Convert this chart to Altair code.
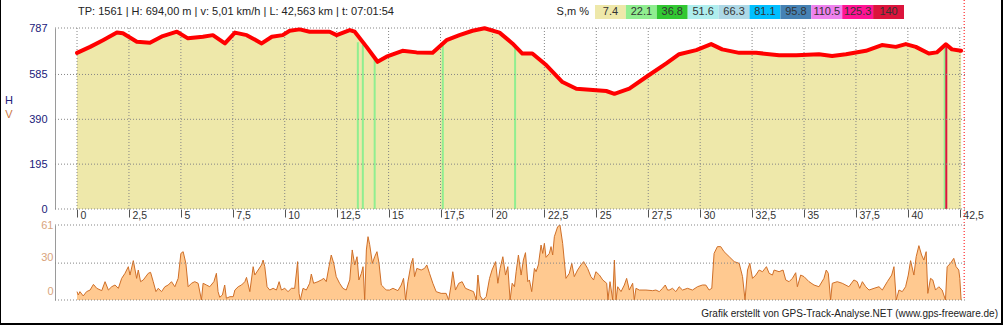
import altair as alt
import pandas as pd

# ---------------- data ----------------
elev_km = [0.00, 0.63, 1.25, 1.92, 2.21, 2.88, 3.51, 4.13, 4.81, 5.34, 6.06, 6.54, 7.12, 7.60,
           8.17, 8.89, 9.38, 9.90, 10.24, 10.72, 11.20, 12.16, 12.50, 13.13, 13.37, 13.94,
           14.47, 14.90, 15.67, 16.35, 17.12, 17.79, 18.41, 19.04, 19.62, 20.34, 20.96,
           21.44, 21.92, 22.60, 23.37, 24.04, 25.00, 25.48, 25.87, 26.59, 27.40, 28.37,
           28.99, 29.81, 30.53, 31.06, 31.88, 32.69, 33.80, 34.62, 35.72, 36.35, 37.02,
           37.98, 38.75, 39.42, 39.90, 40.38, 41.01, 41.39, 41.83, 42.12, 42.563]
elev_m = [679, 705, 734, 767, 764, 727, 723, 752, 771, 742, 749, 756, 720, 767,
          756, 720, 749, 756, 775, 781, 771, 771, 756, 778, 771, 705,
          640, 662, 688, 681, 679, 734, 756, 775, 786, 767, 720,
          676, 676, 625, 552, 523, 516, 513, 501, 523, 574, 633,
          673, 691, 717, 694, 679, 679, 669, 669, 673, 665, 673,
          688, 713, 705, 717, 705, 676, 681, 716, 694, 688]

v_km = [0.00, 0.06, 0.14, 0.30, 0.46, 0.63, 0.79, 0.95, 1.19, 1.35, 1.51, 1.67, 1.83, 1.99,
        2.15, 2.31, 2.47, 2.55, 2.71, 2.87, 2.95, 3.06, 3.19, 3.43, 3.54, 3.67, 3.80, 3.91,
        4.07, 4.23, 4.39, 4.55, 4.71, 4.87, 5.00, 5.11, 5.24, 5.35, 5.51, 5.67, 5.83, 5.99,
        6.07, 6.23, 6.39, 6.59, 6.71, 6.79, 6.87, 7.00, 7.11, 7.19, 7.36, 7.52, 7.60, 7.76,
        7.92, 8.08, 8.16, 8.32, 8.48, 8.56, 8.72, 8.88, 8.96, 9.04, 9.15, 9.28, 9.44, 9.60,
        9.73, 9.84, 10.00, 10.16, 10.32, 10.48, 10.62, 10.69, 10.75, 10.88, 11.04, 11.20,
        11.28, 11.39, 11.60, 11.76, 11.88, 12.00, 12.13, 12.24, 12.36, 12.48, 12.64, 12.80,
        12.96, 13.13, 13.25, 13.37, 13.48, 13.57, 13.69, 13.77, 13.85, 13.93, 14.01, 14.09,
        14.22, 14.33, 14.44, 14.54, 14.65, 14.81, 14.89, 15.05, 15.21, 15.45, 15.61, 15.72,
        15.82, 15.93, 16.09, 16.17, 16.25, 16.36, 16.57, 16.73, 16.84, 16.97, 17.13, 17.29,
        17.53, 17.77, 17.89, 18.01, 18.09, 18.22, 18.38, 18.54, 18.70, 18.90, 19.09, 19.22,
        19.30, 19.41, 19.54, 19.70, 19.86, 19.98, 20.15, 20.26, 20.37, 20.50, 20.63, 20.74,
        20.85, 20.95, 21.06, 21.14, 21.25, 21.38, 21.49, 21.59, 21.70, 21.78, 21.89, 22.02,
        22.10, 22.21, 22.34, 22.42, 22.50, 22.58, 22.74, 22.82, 22.90, 22.98, 23.14, 23.25,
        23.38, 23.54, 23.70, 23.82, 23.94, 24.10, 24.26, 24.39, 24.58, 24.74, 24.87, 24.98,
        25.15, 25.31, 25.50, 25.56, 25.66, 25.79, 25.87, 25.95, 26.03, 26.19, 26.35, 26.46,
        26.59, 26.75, 26.83, 26.91, 27.07, 27.39, 27.71, 27.87, 28.03, 28.19, 28.32, 28.43,
        28.51, 28.67, 28.83, 28.99, 29.15, 29.39, 29.63, 29.87, 30.11, 30.27, 30.43, 30.56,
        30.67, 30.83, 30.99, 31.15, 31.40, 31.64, 31.88, 32.04, 32.16, 32.28, 32.39, 32.52,
        32.68, 32.84, 33.00, 33.19, 33.32, 33.48, 33.56, 33.80, 33.99, 34.12, 34.28, 34.44,
        34.60, 34.68, 34.84, 35.00, 35.24, 35.48, 35.72, 35.96, 36.07, 36.17, 36.28, 36.36,
        36.60, 36.84, 37.16, 37.40, 37.56, 37.68, 37.81, 37.97, 38.13, 38.37, 38.61, 38.77,
        39.01, 39.22, 39.33, 39.44, 39.57, 39.73, 39.89, 40.02, 40.13, 40.29, 40.40, 40.53,
        40.66, 40.77, 40.88, 40.96, 41.09, 41.20, 41.33, 41.49, 41.65, 41.81, 41.89, 42.05,
        42.21, 42.32, 42.45, 42.50, 42.563]
v_val = [6.8, 4.1, 6.8, 3.3, 6.8, 8.1, 12.7, 9.5, 7.6, 14.9, 8.1, 10.8, 12.2, 9.5,
         17.6, 21.7, 27.1, 20.3, 32.0, 17.6, 24.4, 14.9, 16.3, 21.7, 22.5, 14.9, 6.8, 9.5,
         6.8, 10.8, 12.2, 14.9, 10.8, 17.6, 37.9, 39.3, 29.8, 10.8, 13.6, 14.9, 13.6, 0,
         13.6, 12.2, 10.8, 14.9, 21.7, 6.8, 2.2, 4.1, 12.2, 1.4, 2.7, 2.7, 8.1, 10.8,
         12.2, 14.9, 18.4, 6.8, 27.1, 20.3, 24.4, 28.5, 32.5, 27.1, 10.8, 8.1, 9.5, 8.1,
         14.9, 8.1, 9.5, 6.8, 9.5, 9.5, 31.2, 5.4, 0, 9.5, 8.1, 13.6,
         21.1, 13.6, 14.9, 16.3, 17.6, 14.9, 27.1, 36.6, 29.8, 19.0, 13.6, 9.5,
         8.1, 16.3, 40.7, 28.5, 35.2, 16.3, 21.7, 27.1, 0, 40.7, 51.5, 45.0,
         29.8, 35.2, 39.3, 29.8, 12.2, 9.5, 8.1, 8.1, 9.5, 7.6, 12.2, 17.6,
         0, 14.9, 29.8, 33.9, 19.0, 25.7, 24.4, 25.7, 28.5, 21.7, 13.6, 6.8,
         5.4, 5.4, 0, 12.2, 23.0, 8.1, 13.6, 14.9, 9.5, 8.1, 6.8, 0,
         20.3, 3.3, 0, 2.7, 17.6, 24.4, 31.2, 13.6, 25.7, 35.2, 20.3, 27.1,
         0, 13.6, 10.8, 23.0, 36.6, 20.3, 32.5, 38.5, 14.9, 16.3, 6.8, 25.7,
         23.0, 28.5, 44.7, 37.9, 46.1, 34.7, 37.9, 43.4, 36.6, 51.5, 59.6, 61.0,
         46.1, 17.6, 21.7, 29.8, 19.0, 24.4, 28.5, 31.2, 25.7, 19.0, 16.3, 23.0,
         20.3, 16.3, 13.6, 0, 14.9, 0, 32.5, 0, 10.8, 6.8, 12.2, 17.6,
         8.1, 13.6, 0, 9.5, 8.1, 8.1, 7.6, 8.1, 6.8, 9.5, 12.2, 8.1,
         8.1, 9.5, 6.8, 10.8, 8.1, 9.5, 8.1, 10.8, 12.2, 12.2, 8.1, 9.5,
         37.9, 43.4, 43.4, 39.3, 35.2, 31.2, 29.8, 19.0, 0, 24.4, 29.8, 17.6,
         20.3, 24.4, 23.0, 27.1, 21.7, 20.3, 24.4, 23.0, 24.4, 16.3, 14.9, 17.6,
         22.2, 10.8, 20.3, 19.0, 14.9, 12.2, 10.8, 17.6, 24.4, 21.7, 0, 13.6,
         14.9, 13.6, 10.8, 16.3, 14.9, 9.5, 14.9, 10.8, 8.1, 9.5, 10.8, 8.1,
         14.9, 20.3, 27.1, 0, 8.1, 6.8, 10.8, 20.3, 32.0, 20.3, 35.2, 44.2,
         36.6, 32.5, 39.3, 5.4, 17.6, 16.3, 8.1, 10.8, 8.1, 0, 27.1, 29.8,
         33.9, 27.1, 24.4, 17.6, 0]

x_ticks = [0, 2.5, 5, 7.5, 10, 12.5, 15, 17.5, 20, 22.5, 25, 27.5, 30, 32.5, 35, 37.5, 40, 42.5]
h_ticks = [0, 195, 390, 585, 787]
v_ticks = [0, 30, 61]

slope_km = [13.52, 13.76, 14.33, 17.61, 21.09, 41.77, 41.85]
slope_top = [725, 713, 652, 712, 700, 714, 716]
slope_cls = ["22.1", "22.1", "22.1", "22.1", "22.1", "22.1", "140"]

legend_labels = ["7.4", "22.1", "36.8", "51.6", "66.3", "81.1", "95.8", "110.5", "125.3", "140"]
legend_colors = ["#EEE8AA", "#90EE90", "#32C832", "#AFEEEE", "#ADD8E6", "#00BFFF",
                 "#4682B4", "#EE82EE", "#FF1493", "#DC143C"]
legend_title = "S,m %"
cursor_km = 42.71
header_text = "TP: 1561 | H: 694,00 m | v: 5,01 km/h | L: 42,563 km | t: 07:01:54"
footer_text = "Grafik erstellt von GPS-Track-Analyse.NET (www.gps-freeware.de)"
h_title = "H"
v_title = "V"

# ---------------- styling ----------------
FONT = "Liberation Sans"
W, H = 910, 300
X_DOM = [-1.06, 42.75]
GRID = "#858585"
NAVY = "#20207A"
TAN = "#D9A47C"
RUST = "#CC7A44"

xs = alt.Scale(domain=X_DOM, nice=False, zero=False)
hs = alt.Scale(domain=[0, 787], range=[209, 28], nice=False, zero=False)
vs = alt.Scale(domain=[0, 61], range=[300, 225], nice=False, zero=False)
slope_color = alt.Scale(domain=legend_labels, range=legend_colors)

edf = pd.DataFrame({"km": elev_km, "m": elev_m})
vdf = pd.DataFrame({"km": v_km, "v": v_val})
hgrid = pd.DataFrame({"m": h_ticks})
vgrid = pd.DataFrame({"km": x_ticks, "lo": [0] * len(x_ticks), "hi": [787] * len(x_ticks)})
sgrid = pd.DataFrame({"v": v_ticks})
sdf = pd.DataFrame({"km": slope_km, "lo": [0] * len(slope_km), "top": slope_top, "cls": slope_cls})
cdf = pd.DataFrame({"km": [cursor_km]})
ldf = pd.DataFrame({"lab": legend_labels})

x_axis = alt.Axis(
    values=x_ticks, orient="bottom", offset=-91, domain=False, grid=False,
    ticks=True, tickSize=8, tickColor="#555555", labelAlign="left", labelBaseline="top",
    labelPadding=-7, labelOffset=3, labelColor="#333333", labelFont=FONT, labelFontSize=10.5,
    labelOverlap=False, labelExpr="replace(format(datum.value, '.1~f'), '.', ',')", title=None,
)
h_axis = alt.Axis(
    values=h_ticks, orient="left", grid=False, ticks=False, domain=True, domainColor="#9a9a9a",
    labelColor=NAVY, labelFont=FONT, labelFontSize=11, labelPadding=8,
    title=h_title, titleAngle=0, titleX=-46.5, titleY=100, titleColor=NAVY, titleFont=FONT,
    titleFontSize=11, titleFontWeight="normal", titleAlign="center", titleBaseline="middle",
)
v_axis = alt.Axis(
    values=v_ticks, orient="left", grid=False, ticks=False, domain=True, domainColor="#9a9a9a",
    labelColor=TAN, labelFont=FONT, labelFontSize=11, labelPadding=2,
    labelOffset={"condition": [{"test": "datum.value === 0", "value": -9},
                               {"test": "datum.value === 30", "value": -6}], "value": 0},
    title=v_title, titleAngle=0, titleX=-46.5, titleY=114, titleColor=RUST, titleFont=FONT,
    titleFontSize=11, titleFontWeight="normal", titleAlign="center", titleBaseline="middle",
)

# ---------------- upper panel: elevation ----------------
up_area = alt.Chart(edf).mark_area(color="#EEE8AA", interpolate="linear").encode(
    x=alt.X("km:Q", scale=xs, axis=x_axis),
    y=alt.Y("m:Q", scale=hs, axis=h_axis),
)
up_hgrid = alt.Chart(hgrid).mark_rule(color=GRID, strokeDash=[1, 2], strokeWidth=1).encode(
    y=alt.Y("m:Q", scale=hs)
)
up_vgrid = alt.Chart(vgrid).mark_rule(color=GRID, strokeDash=[1, 2], strokeWidth=1).encode(
    x=alt.X("km:Q", scale=xs),
    y=alt.Y("lo:Q", scale=hs), y2="hi:Q",
)
up_slopes = alt.Chart(sdf).mark_rule(strokeWidth=2).encode(
    x=alt.X("km:Q", scale=xs),
    y=alt.Y("lo:Q", scale=hs), y2="top:Q",
    color=alt.Color("cls:N", scale=slope_color, legend=None),
)
up_line = alt.Chart(edf).mark_line(color="#FF0000", strokeWidth=4, strokeJoin="round",
                                   strokeCap="round").encode(
    x=alt.X("km:Q", scale=xs),
    y=alt.Y("m:Q", scale=hs),
)
up_cursor = alt.Chart(cdf).mark_rule(color="#FF0000", strokeDash=[1, 2], strokeWidth=1).encode(
    x=alt.X("km:Q", scale=xs),
    y=alt.value(0), y2=alt.value(H),
)
upper = alt.layer(up_area, up_slopes, up_hgrid, up_vgrid, up_line, up_cursor)

# ---------------- lower panel ----------------
lo_area = alt.Chart(vdf).mark_area(color="#FFC990").encode(
    x=alt.X("km:Q", scale=xs, axis=None),
    y=alt.Y("v:Q", scale=vs, axis=v_axis),
)
lo_line = alt.Chart(vdf).mark_line(color="#CF6F28", strokeWidth=1).encode(
    x=alt.X("km:Q", scale=xs, axis=None),
    y=alt.Y("v:Q", scale=vs),
)
lo_grid = alt.Chart(sgrid).mark_rule(color=GRID, strokeDash=[1, 2], strokeWidth=1).encode(
    y=alt.Y("v:Q", scale=vs)
)
lower = alt.layer(lo_area, lo_line, lo_grid)

# ---------------- slope legend ----------------
lx = alt.X("lab:N", sort=legend_labels,
           scale=alt.Scale(domain=legend_labels, range=[540, 849], paddingInner=0, paddingOuter=0),
           axis=None)
leg_rect = alt.Chart(ldf).mark_rect().encode(
    x=lx, y=alt.value(5), y2=alt.value(19),
    color=alt.Color("lab:N", scale=slope_color, legend=None),
)
leg_text = alt.Chart(ldf).mark_text(font=FONT, fontSize=11, color="#333333",
                                    baseline="middle", align="center").encode(
    x=lx, y=alt.value(12), text="lab:N",
)
legend = alt.layer(leg_rect, leg_text)

# ---------------- texts ----------------
header = alt.Chart(pd.DataFrame({"t": [header_text]})).mark_text(
    font=FONT, fontSize=11, color="#222222", align="left", baseline="middle"
).encode(x=alt.value(23), y=alt.value(12), text="t:N")
leg_title = alt.Chart(pd.DataFrame({"t": [legend_title]})).mark_text(
    font=FONT, fontSize=11, color="#222222", align="right", baseline="middle"
).encode(x=alt.value(534), y=alt.value(12), text="t:N")
footer = alt.Chart(pd.DataFrame({"t": [footer_text]})).mark_text(
    font=FONT, fontSize=10, color="#222222", align="right", baseline="middle"
).encode(x=alt.value(943), y=alt.value(314), text="t:N")
border = alt.Chart(pd.DataFrame({"b": [0]})).mark_rect(
    filled=False, stroke="#000000", strokeWidth=2
).encode(x=alt.value(-55), x2=alt.value(W + 37), y=alt.value(-5), y2=alt.value(H + 24))

chart = alt.layer(upper, lower, legend, header, leg_title, footer, border).resolve_scale(
    x="independent", y="independent", color="independent"
).properties(
    width=W, height=H,
    padding={"left": 55, "top": 0, "right": 38, "bottom": 25},
    autosize=alt.AutoSizeParams(type="none"),
    background="white",
).configure_view(stroke=None)

chart.save("out.html", embed_options={"renderer": "svg", "actions": False})
